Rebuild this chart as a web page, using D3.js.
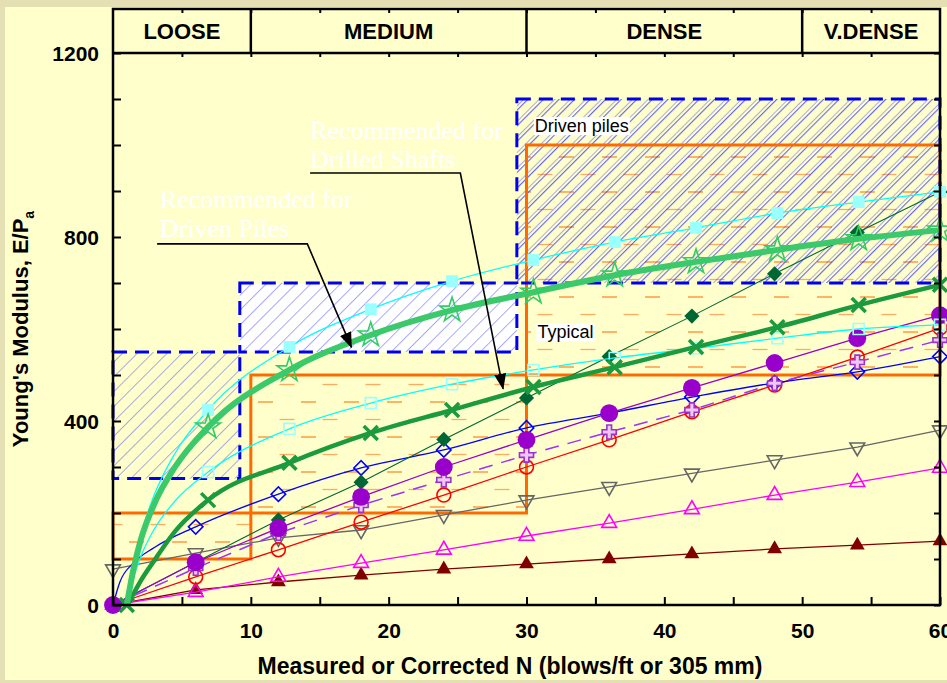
<!DOCTYPE html>
<html>
<head>
<meta charset="utf-8">
<script src="https://cdn.jsdelivr.net/npm/d3@7"></script>
<style>
  body { margin: 0; background: #E4E0B4; }
  svg { display: block; }
</style>
</head>
<body>
<div id="chart"></div>
<script>
// ========== DATA ==========
const densityBands = ["LOOSE", "MEDIUM", "DENSE", "V.DENSE"];
const bandEdges = [0, 10, 30, 50, 60];
const xTicks = [0, 10, 20, 30, 40, 50, 60];
const yTicks = [0, 400, 800, 1200];

// N positions of the markers
const nLog = [1, 6.9, 12.8, 18.7, 24.6, 30.5, 36.4, 42.3, 48.2, 54.1, 60];
const nLin = [0, 6, 12, 18, 24, 30, 36, 42, 48, 54, 60];
// points read along the steep start of the smooth curves (line only)
const nLead = [1.5, 2, 3, 4.5];

// E/Pa values
const cyanFilled = [0, 424, 561, 643, 704, 750, 789, 820, 852, 876, 898];
const greenStar  = [0, 387, 511, 587, 641, 680, 717, 746, 772, 796, 815];
const cyanOpen   = [0, 289, 383, 439, 480, 511, 537, 558, 580, 600, 609];
const greenX     = [0, 228, 309, 374, 424, 474, 517, 561, 604, 652, 696];

const cyanFilledLead = [85, 150, 240, 330];
const greenStarLead  = [80, 140, 220, 300];
const cyanOpenLead   = [60, 104, 165, 226];
const greenXLead     = [25, 52, 97, 160];

const darkDiamond  = [0, 93, 185, 267, 360, 450, 540, 628, 720, 810, 898];
const blueDiamond  = [0, 170, 241, 298, 337, 385, 417, 452, 483, 507, 540];
const purpleCircle = [0, 93, 167, 235, 300, 359, 417, 472, 526, 580, 630];
const purplePlus   = [0, 80, 156, 217, 272, 326, 376, 424, 482, 528, 576];
const redCircle    = [0, 61, 120, 180, 239, 300, 359, 420, 478, 539, 602];
const grayTri      = [78, 113, 146, 163, 196, 228, 257, 286, 315, 343, 380];
const magentaTri   = [0, 28, 61, 91, 120, 150, 178, 208, 239, 267, 298];
const maroonTri    = [0, 33, 50, 65, 78, 89, 100, 111, 122, 130, 139];

const blueLeadN = [0.5, 1.5, 3];
const blueLead  = [50, 92, 125];

// stepped zones: [N from, N to, E low, E high]
const drivenZones  = [[0, 9.2, 275, 550], [9.2, 29.3, 550, 700], [29.3, 60, 700, 1100]];
const typicalZones = [[0, 10, 100, 200], [10, 30, 200, 500], [30, 60, 500, 1000]];

// ========== SETUP ==========
const W = 947, H = 683;
const x = d3.scaleLinear().domain([0, 60]).range([113, 940]);
const y = d3.scaleLinear().domain([0, 1200]).range([605, 53]);
const headerTop = 9;
const FONT = "'Liberation Sans', Arial, sans-serif";

const svg = d3.select("#chart").append("svg")
  .attr("width", W).attr("height", H);

svg.append("rect").attr("width", W).attr("height", H).style("fill", "#E4E0B4");
svg.append("rect").attr("x", 5).attr("y", 7).attr("width", W - 5).attr("height", 673)
  .style("fill", "#FFFFCC");

const defs = svg.append("defs");

// blue diagonal hatch
function hatch(id, spacing, offsets) {
  const p = defs.append("pattern").attr("id", id)
    .attr("patternUnits", "userSpaceOnUse")
    .attr("width", spacing).attr("height", spacing)
    .attr("patternTransform", "rotate(45)");
  offsets.forEach(o => {
    p.append("line").attr("x1", o).attr("x2", o).attr("y1", 0).attr("y2", spacing)
      .style("stroke", "#2B2BFF").style("stroke-width", 0.8);
  });
}
hatch("hatch1", 10.5, [0]);
hatch("hatch2", 11, [0, 3.6]);

// orange dash fill
const dash = defs.append("pattern").attr("id", "dashes")
  .attr("patternUnits", "userSpaceOnUse")
  .attr("x", 0).attr("y", 156).attr("width", 43).attr("height", 35);
dash.append("line").attr("x1", 0).attr("x2", 15).attr("y1", 1).attr("y2", 1)
  .style("stroke", "#FF8A2A").style("stroke-width", 1.3);
dash.append("line").attr("x1", 21.5).attr("x2", 36.5).attr("y1", 18.5).attr("y2", 18.5)
  .style("stroke", "#FFAA60").style("stroke-width", 1.3);

defs.append("marker").attr("id", "arrow")
  .attr("viewBox", "0 0 16 12").attr("refX", 15).attr("refY", 6)
  .attr("markerUnits", "userSpaceOnUse")
  .attr("markerWidth", 16).attr("markerHeight", 12)
  .attr("orient", "auto")
  .append("path").attr("d", "M0,0 L16,6 L0,12 Z").style("fill", "black");

function zoneRect(g, z) {
  return g.append("rect")
    .attr("x", x(z[0])).attr("y", y(z[3]))
    .attr("width", x(z[1]) - x(z[0])).attr("height", y(z[2]) - y(z[3]));
}

// ========== ZONES ==========
const zoneG = svg.append("g");
zoneRect(zoneG, drivenZones[1]).style("fill", "white");
typicalZones.forEach(z => zoneRect(zoneG, z).style("fill", "url(#dashes)"));
drivenZones.forEach((z, i) => zoneRect(zoneG, z).style("fill", i === 2 ? "url(#hatch2)" : "url(#hatch1)"));
typicalZones.forEach(z => zoneRect(zoneG, z)
  .style("fill", "none").style("stroke", "#FF6A00").style("stroke-width", 3));
drivenZones.forEach(z => zoneRect(zoneG, z)
  .style("fill", "none").style("stroke", "#0000F0").style("stroke-width", 3)
  .style("stroke-dasharray", "14,8"));

// ========== SERIES ==========
const sym = (type, size, rot) => {
  const p = d3.symbol().type(type).size(size)();
  return { d: p, rot: rot || 0 };
};
const xPath = { d: "M-7,-7L7,7M-7,7L7,-7", rot: 0 };

const series = [
  { n: nLin, v: maroonTri, color: "#800000", w: 1.3, mk: sym(d3.symbolTriangle, 95), fill: "#800000" },
  { n: nLin, v: magentaTri, color: "#FF00FF", w: 1.3, mk: sym(d3.symbolTriangle, 95), stroke: "#FF00FF" },
  { n: nLin, v: grayTri, color: "#666666", w: 1.3, mk: sym(d3.symbolTriangle, 95, 180), stroke: "#666666" },
  { n: nLin, v: redCircle, color: "#FF0000", w: 1.3, mk: sym(d3.symbolCircle, 150), stroke: "#FF0000" },
  { n: nLin, v: blueDiamond, color: "#0000FF", w: 1.3, mk: sym(d3.symbolSquare, 105, 45), stroke: "#0000FF",
    leadN: blueLeadN, lead: blueLead, curve: d3.curveMonotoneX },
  { n: nLin, v: darkDiamond, color: "#006633", w: 1.1, mk: sym(d3.symbolSquare, 115, 45), fill: "#006633" },
  { n: nLin, v: purplePlus, color: "#9933FF", w: 1.5, dash: "14,9", mk: sym(d3.symbolCross, 110), stroke: "#9933CC", fill: "#F2C6F2" },
  { n: nLin, v: purpleCircle, color: "#9900CC", w: 1.3, mk: sym(d3.symbolCircle, 250), fill: "#9900CC" },
  { n: nLog, v: cyanOpen, color: "#00FFFF", w: 1.3, mk: sym(d3.symbolSquare, 120), stroke: "#99FFFF",
    leadN: nLead, lead: cyanOpenLead, curve: d3.curveMonotoneX, skipFirst: true },
  { n: nLog, v: greenX, color: "#1B9B3E", w: 4.5, mk: xPath, stroke: "#1B9B3E", sw: 3.5,
    leadN: nLead, lead: greenXLead, curve: d3.curveMonotoneX },
  { n: nLog, v: cyanFilled, color: "#00FFFF", w: 1.3, mk: sym(d3.symbolSquare, 140), fill: "#99FFFF",
    leadN: nLead, lead: cyanFilledLead, curve: d3.curveMonotoneX, skipFirst: true },
  { n: nLog, v: greenStar, color: "#3CC96C", w: 6, mk: sym(d3.symbolStar, 190), stroke: "#33CC66",
    leadN: nLead, lead: greenStarLead, curve: d3.curveMonotoneX, skipFirst: true }
];

const seriesG = svg.append("g");
series.forEach(s => {
  let pts = s.n.map((n, i) => [n, s.v[i]]);
  let linePts = pts.slice();
  if (s.lead) {
    const lead = s.leadN.map((n, i) => [n, s.lead[i]]);
    linePts = [linePts[0]].concat(lead, linePts.slice(1));
  }
  const line = d3.line().x(d => x(d[0])).y(d => y(d[1])).curve(s.curve || d3.curveLinear);
  seriesG.append("path").attr("d", line(linePts))
    .style("fill", "none").style("stroke", s.color).style("stroke-width", s.w)
    .style("stroke-dasharray", s.dash || null);

  const mpts = s.skipFirst ? pts.slice(1) : pts;
  seriesG.selectAll(null).data(mpts).join("path")
    .attr("transform", d => `translate(${x(d[0])},${y(d[1])}) rotate(${s.mk.rot})`)
    .attr("d", s.mk.d)
    .style("fill", s.fill || "none")
    .style("stroke", s.stroke || "none")
    .style("stroke-width", s.sw || 1.6);
});

// ========== ZONE LABELS ==========
function boxLabel(txt, nx, ey) {
  const t = svg.append("text").attr("x", x(nx)).attr("y", y(ey))
    .style("font-family", FONT).style("font-size", "18px").style("fill", "black").text(txt);
  const b = t.node().getBBox();
  svg.insert("rect", () => t.node())
    .attr("x", b.x - 1).attr("y", b.y + 1).attr("width", b.width + 2).attr("height", b.height - 2)
    .style("fill", "white");
}
boxLabel("Driven piles", 30.6, 1028);
boxLabel("Typical", 30.8, 580);

// ========== ANNOTATIONS ==========
const annG = svg.append("g");
const annLine = d3.line().x(d => x(d[0])).y(d => y(d[1]));
annG.append("path").attr("d", annLine([[14.3, 939], [25.2, 939], [28.3, 470]]))
  .style("fill", "none").style("stroke", "black").style("stroke-width", 1.6)
  .attr("marker-end", "url(#arrow)");
annG.append("path").attr("d", annLine([[3.2, 785], [14.1, 785], [17.3, 560]]))
  .style("fill", "none").style("stroke", "black").style("stroke-width", 1.6)
  .attr("marker-end", "url(#arrow)");

function whiteNote(lines, nx, ey) {
  const t = annG.append("text").attr("x", x(nx)).attr("y", y(ey))
    .style("font-family", "'Liberation Serif', 'Times New Roman', serif")
    .style("font-size", "26px").style("fill", "white");
  lines.forEach((l, i) => t.append("tspan").attr("x", x(nx)).attr("dy", i ? 29 : 0).text(l));
}
whiteNote(["Recommended for", "Drilled Shafts"], 14.3, 1013);
whiteNote(["Recommended for", "Driven Piles"], 3.4, 863);

// ========== AXES & FRAME ==========
const axG = svg.append("g").style("font-family", FONT);

axG.append("g").attr("transform", `translate(0,${y(0)})`)
  .call(d3.axisBottom(x).tickValues(d3.range(0, 61, 5)).tickSize(-8).tickSizeOuter(0)
    .tickPadding(18).tickFormat(d => xTicks.includes(d) ? d : ""))
  .call(g => g.select(".domain").remove());

axG.append("g").attr("transform", `translate(${x(0)},0)`)
  .call(d3.axisLeft(y).tickValues(d3.range(0, 1201, 100)).tickSize(-8).tickSizeOuter(0)
    .tickPadding(14).tickFormat(d => yTicks.includes(d) ? d : ""))
  .call(g => g.select(".domain").remove())
  .call(g => g.selectAll("text").attr("dy", "0.38em"));

axG.append("g").attr("transform", `translate(${x(60)},0)`)
  .call(d3.axisRight(y).tickValues(d3.range(0, 1201, 100)).tickSize(-6).tickSizeOuter(0).tickFormat(""))
  .call(g => g.select(".domain").remove());

[y(1200), headerTop].forEach(ty => {
  axG.append("g").attr("transform", `translate(0,${ty})`)
    .call(d3.axisTop(x).tickValues(d3.range(5, 60, 5)).tickSize(-4).tickSizeOuter(0).tickFormat(""))
    .call(g => g.select(".domain").remove());
});

axG.selectAll(".tick line").style("stroke", "black").style("stroke-width", 2);
axG.selectAll(".tick text").style("font-size", "21px").style("font-weight", "bold").style("fill", "black");

axG.append("rect").attr("x", x(0)).attr("y", headerTop)
  .attr("width", x(60) - x(0)).attr("height", y(0) - headerTop)
  .style("fill", "none").style("stroke", "black").style("stroke-width", 2.5);
axG.append("line").attr("x1", x(0)).attr("x2", x(60)).attr("y1", y(1200)).attr("y2", y(1200))
  .style("stroke", "black").style("stroke-width", 2.5);

bandEdges.slice(1, -1).forEach(b => {
  axG.append("line").attr("x1", x(b)).attr("x2", x(b)).attr("y1", headerTop).attr("y2", y(1200))
    .style("stroke", "black").style("stroke-width", 2.5);
});
densityBands.forEach((name, i) => {
  axG.append("text").attr("x", x((bandEdges[i] + bandEdges[i + 1]) / 2)).attr("y", 39)
    .style("text-anchor", "middle").style("font-size", "22px").style("font-weight", "bold")
    .text(name);
});

axG.append("text").attr("x", 510).attr("y", 674)
  .style("text-anchor", "middle").style("font-size", "23px").style("font-weight", "bold")
  .text("Measured or Corrected N (blows/ft or 305 mm)");

const yl = axG.append("text").attr("transform", "translate(28,329) rotate(-90)")
  .style("text-anchor", "middle").style("font-size", "22px").style("font-weight", "bold");
yl.append("tspan").text("Young's Modulus, E/P");
yl.append("tspan").attr("dy", 6).style("font-size", "14px").text("a");
</script>
</body>
</html>
